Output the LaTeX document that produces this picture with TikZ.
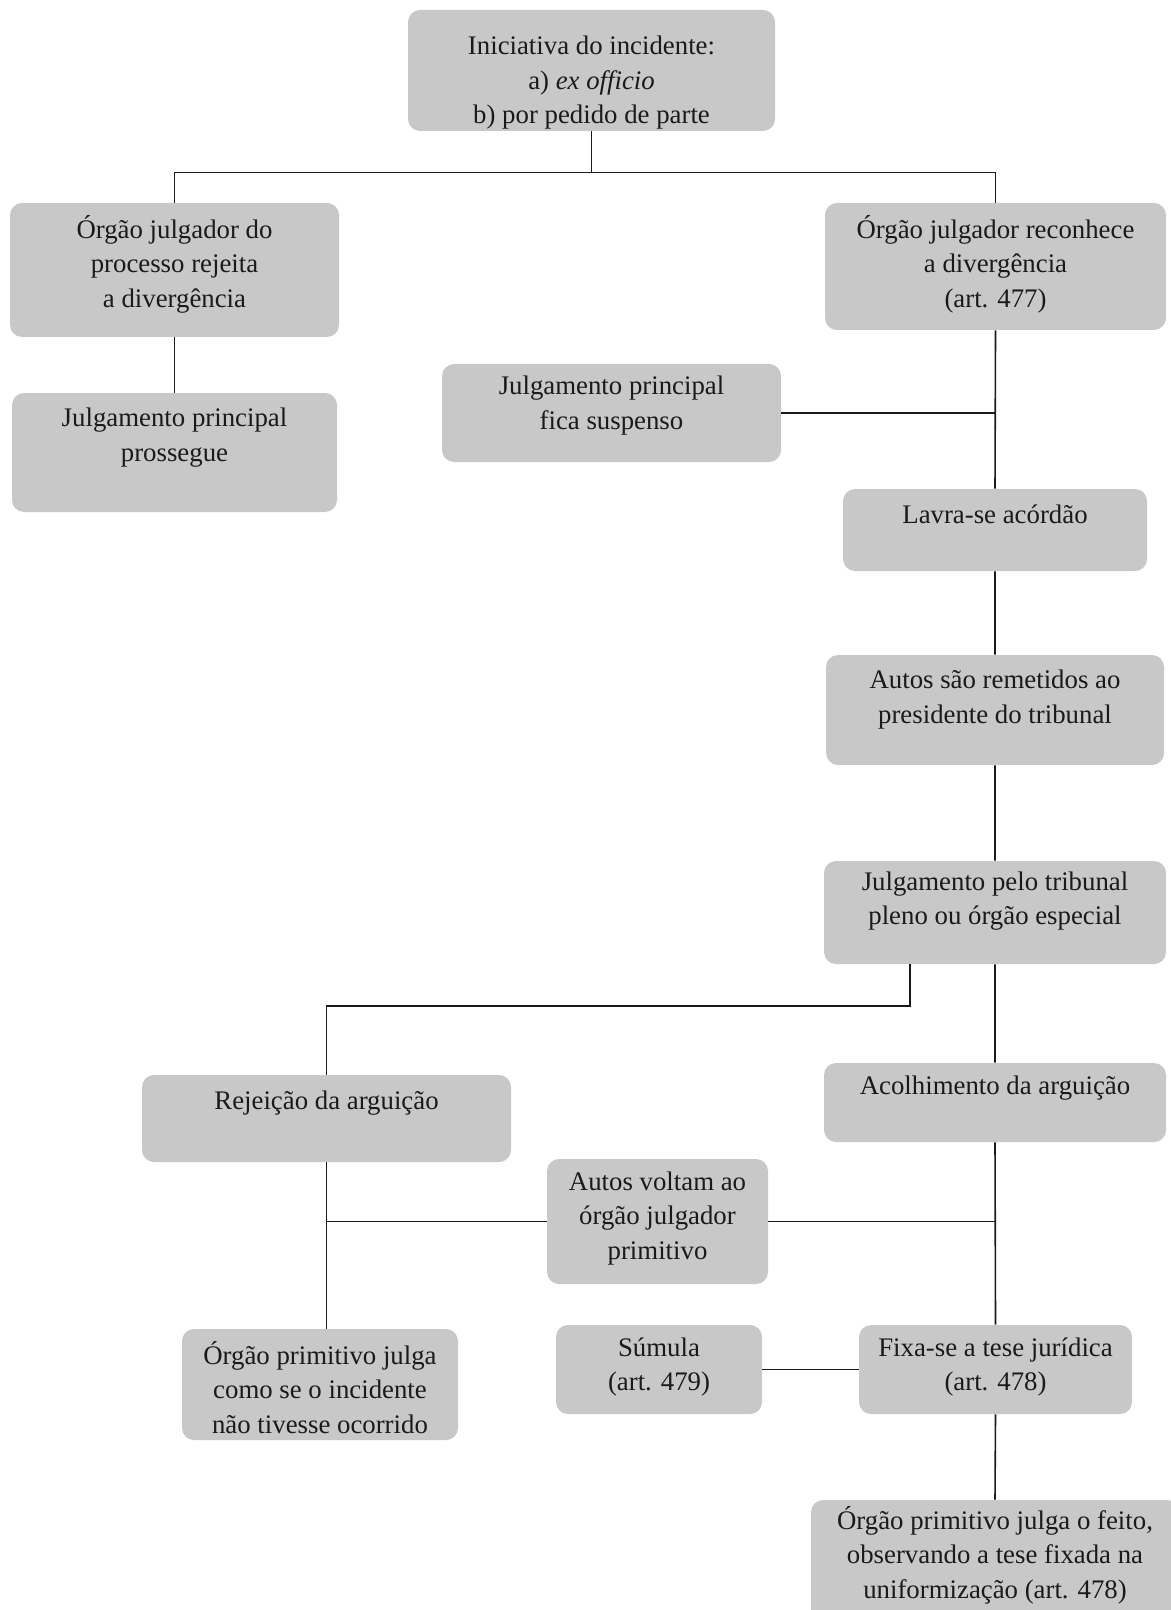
\documentclass[tikz,border=0pt]{standalone}
\usepackage{fontspec}
\setmainfont{Liberation Serif}
\usetikzlibrary{positioning,fit}
\definecolor{cinza}{HTML}{C8C8C8}
\definecolor{tinta}{HTML}{1A1A1A}
\tikzset{bloco/.style={fill=cinza,rounded corners=6pt,inner sep=0pt},rotulo/.style={font=\fontsize{13.4}{17.25}\selectfont,align=center,inner sep=0pt,text=tinta,execute at begin node={\rule{0pt}{13pt}}},liga/.style={draw=tinta,line width=.8pt}}
\newcommand{\caixa}[6][6.2pt]{\node[bloco,fit={(#3,#4)(#5,#6)}] (#2){};\node[rotulo,below=#1 of #2.north] (#2t){\csname txt@#2\endcsname};}
\newcommand{\texto}[2]{\expandafter\def\csname txt@#1\endcsname{#2}}

\begin{document}
\begin{tikzpicture}[x=0.5pt,y=-0.5pt]
\useasboundingbox (0,0) rectangle (1171,1610);\clip (0,0) rectangle (1171,1610);
\texto{ini}{Iniciativa do incidente:\\a) \textit{ex officio}\\b) por pedido de parte}\caixa[13pt]{ini}{408}{10}{775}{131}
\texto{rejdiv}{Órgão julgador do\\processo rejeita\\a divergência}\caixa[6pt]{rejdiv}{10}{203}{339}{337}
\texto{recdiv}{Órgão julgador reconhece\\a divergência\\(art. 477)}\caixa[6pt]{recdiv}{825}{203}{1166}{330}
\texto{prossegue}{Julgamento principal\\prossegue}\caixa[7.5pt]{prossegue}{12}{393}{337}{512}
\texto{suspenso}{Julgamento principal\\fica suspenso}\caixa{suspenso}{442}{364}{781}{462}
\texto{lavra}{Lavra-se acórdão}\caixa[4pt]{lavra}{843}{489}{1147}{571}
\texto{remetidos}{Autos são remetidos ao\\presidente do tribunal}\caixa[7.5pt]{remetidos}{826}{655}{1164}{765}
\texto{pleno}{Julgamento pelo tribunal\\pleno ou órgão especial}\caixa[5.4pt]{pleno}{824}{861}{1166}{964}
\texto{rejarg}{Rejeição da arguição}\caixa[4pt]{rejarg}{142}{1075}{511}{1162}
\texto{acolh}{Acolhimento da arguição}\caixa[2.8pt]{acolh}{824}{1063}{1166}{1142}
\texto{voltam}{Autos voltam ao\\órgão julgador\\primitivo}\caixa{voltam}{547}{1159}{768}{1284}
\texto{ocorrido}{Órgão primitivo julga\\como se o incidente\\não tivesse ocorrido}\caixa[6pt]{ocorrido}{182}{1329}{458}{1440}
\texto{sumula}{Súmula\\(art. 479)}\caixa{sumula}{556}{1325}{762}{1414}
\texto{tese}{Fixa-se a tese jurídica\\(art. 478)}\caixa{tese}{859}{1325}{1132}{1414}
\texto{feito}{Órgão primitivo julga o feito,\\observando a tese fixada na\\uniformização (art. 478)}\caixa[3pt]{feito}{811}{1500}{1179}{1640}
\draw[liga] (ini.south) -- ++(0,41) coordinate (topo);
\draw[liga] (rejdiv.north) |- (topo) -| (recdiv.north);\draw[liga] (rejdiv.south) -- (prossegue.north);
\draw[liga] (recdiv.south) -- (lavra.north) (lavra.south) -- (remetidos.north) (remetidos.south) -- (pleno.north) (pleno.south) -- (acolh.north) (acolh.south) -- (tese.north) (tese.south) -- (feito.north);
\draw[liga] (suspenso.east) -- (suspenso.east -| recdiv.south);
\coordinate (ramo) at (910,1006);\draw[liga] (pleno.south -| ramo) -- (ramo) -| (rejarg.north);
\draw[liga] (rejarg.south) -- (rejarg.south |- ocorrido.north);
\draw[liga] (voltam.west) -- (voltam.west -| rejarg.south) (voltam.east) -- (voltam.east -| acolh.south);
\draw[liga] (sumula.east) -- (tese.west);
\end{tikzpicture}
\end{document}
